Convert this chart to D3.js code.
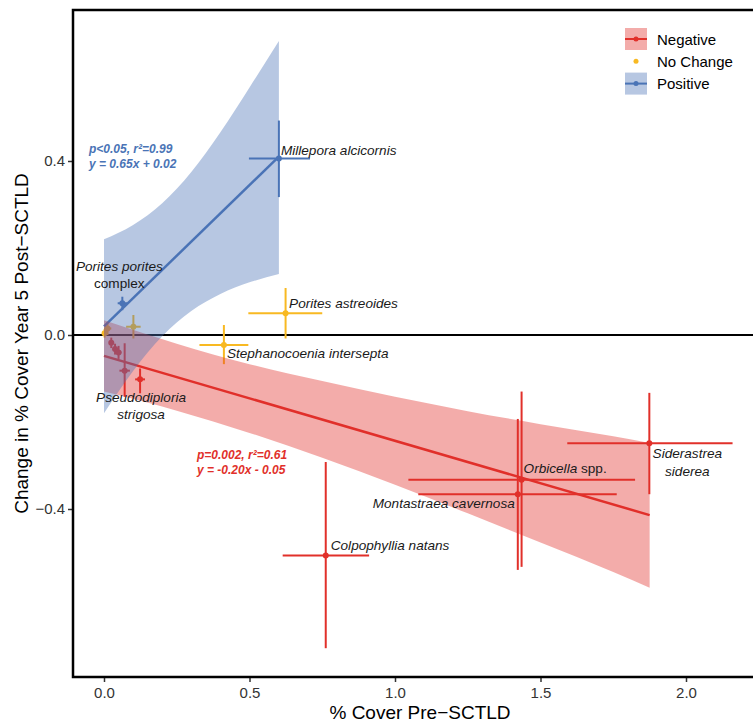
<!DOCTYPE html>
<html>
<head>
<meta charset="utf-8">
<script src="https://cdn.jsdelivr.net/npm/d3@7"></script>
<style>
  body { margin: 0; background: #fff; }
  svg { font-family: "Liberation Sans", Arial, Helvetica, sans-serif; }
</style>
</head>
<body>
<svg id="chart" width="753" height="722"></svg>
<script>
// species means with error bar ends (x = % cover pre, y = change at year 5)
var names  = ["Colpophyllia natans", "Orbicella spp.", "Montastraea cavernosa", "Siderastrea siderea",
              "", "Pseudodiploria strigosa", "", "", "",
              "Porites astreoides", "Stephanocoenia intersepta", "", "", "",
              "Millepora alcicornis", "Porites porites complex"];
var groups = ["Negative", "Negative", "Negative", "Negative",
              "Negative", "Negative", "Negative", "Negative", "Negative",
              "No Change", "No Change", "No Change", "No Change", "No Change",
              "Positive", "Positive"];
var xMean = [0.762, 1.435, 1.422, 1.874, 0.071, 0.124, 0.025, 0.038, 0.050, 0.624, 0.412, 0.101, 0.012, 0.002, 0.601, 0.063];
var xLow  = [0.614, 1.046, 1.080, 1.592, 0.053, 0.107, 0.018, 0.030, 0.040, 0.496, 0.328, 0.076, 0.000, -0.006, 0.498, 0.047];
var xHigh = [0.911, 1.825, 1.762, 2.160, 0.089, 0.141, 0.032, 0.046, 0.060, 0.750, 0.496, 0.126, 0.025, 0.010, 0.708, 0.080];
var yMean = [-0.507, -0.333, -0.366, -0.249, -0.082, -0.102, -0.018, -0.032, -0.040, 0.050, -0.023, 0.019, 0.015, 0.004, 0.406, 0.073];
var yLow  = [-0.720, -0.533, -0.540, -0.366, -0.142, -0.134, -0.030, -0.045, -0.055, -0.008, -0.067, -0.008, 0.000, -0.006, 0.317, 0.057];
var yHigh = [-0.292, -0.130, -0.193, -0.133, -0.019, -0.077, -0.006, -0.020, -0.025, 0.108, 0.023, 0.046, 0.030, 0.014, 0.493, 0.088];

// fitted lines and their confidence bands
var redFitX = [0, 1.875];
var redFitY = [-0.048, -0.414];
var blueFitX = [0, 0.601];
var blueFitY = [0.02, 0.41];
var redBandX  = [0, 0.25, 0.5, 0.75, 1.0, 1.25, 1.5, 1.75, 1.875];
var redBandLo = [-0.130, -0.174, -0.225, -0.282, -0.344, -0.410, -0.477, -0.545, -0.581];
var redBandHi = [0.034, -0.020, -0.067, -0.106, -0.142, -0.175, -0.205, -0.233, -0.248];
var blueBandX  = [0, 0.1, 0.2, 0.3, 0.4, 0.5, 0.601];
var blueBandLo = [-0.180, -0.083, -0.003, 0.055, 0.094, 0.121, 0.140];
var blueBandHi = [0.220, 0.253, 0.303, 0.375, 0.466, 0.569, 0.676];

var xTicks = [0, 0.5, 1.0, 1.5, 2.0];
var yTicks = [-0.4, 0, 0.4];
var legendLabels = ["Negative", "No Change", "Positive"];

(function () {
  var colors = { "Negative": "#e1302a", "No Change": "#f8b922", "Positive": "#4a74b6" };
  var hasBand = { "Negative": true, "Positive": true };

  var svg = d3.select('#chart');
  var pLeft = 73, pRight = 767, pTop = 10, pBottom = 677;

  var x = d3.scaleLinear().domain([0, 2]).range([104, 686]);
  var y = d3.scaleLinear().domain([-0.4, 0.4]).range([509, 161]);

  // zero line
  svg.append('line')
    .attr('x1', pLeft).attr('x2', pRight)
    .attr('y1', y(0)).attr('y2', y(0))
    .attr('stroke', '#000').attr('stroke-width', 2);

  var idx = d3.range(xMean.length);

  // error bars + points
  var bars = svg.append('g');
  bars.selectAll('.eh').data(idx).enter().append('line')
    .attr('x1', function(i) { return x(xLow[i]); })
    .attr('x2', function(i) { return x(xHigh[i]); })
    .attr('y1', function(i) { return y(yMean[i]); })
    .attr('y2', function(i) { return y(yMean[i]); })
    .attr('stroke', function(i) { return colors[groups[i]]; })
    .attr('stroke-width', 2);
  bars.selectAll('.ev').data(idx).enter().append('line')
    .attr('x1', function(i) { return x(xMean[i]); })
    .attr('x2', function(i) { return x(xMean[i]); })
    .attr('y1', function(i) { return y(yLow[i]); })
    .attr('y2', function(i) { return y(yHigh[i]); })
    .attr('stroke', function(i) { return colors[groups[i]]; })
    .attr('stroke-width', 2);
  bars.selectAll('circle').data(idx).enter().append('circle')
    .attr('cx', function(i) { return x(xMean[i]); })
    .attr('cy', function(i) { return y(yMean[i]); })
    .attr('r', 3)
    .attr('fill', function(i) { return colors[groups[i]]; });

  // fit lines
  var line = d3.line().x(function(d) { return x(d[0]); }).y(function(d) { return y(d[1]); });
  svg.append('path').attr('d', line(d3.zip(redFitX, redFitY)))
    .attr('stroke', colors["Negative"]).attr('stroke-width', 2.5).attr('fill', 'none');
  svg.append('path').attr('d', line(d3.zip(blueFitX, blueFitY)))
    .attr('stroke', colors["Positive"]).attr('stroke-width', 2.5).attr('fill', 'none');

  // bands drawn over the points, semi transparent
  var area = d3.area()
    .x(function(d) { return x(d[0]); })
    .y0(function(d) { return y(d[1]); })
    .y1(function(d) { return y(d[2]); })
    .curve(d3.curveMonotoneX);
  svg.append('path').attr('d', area(d3.zip(redBandX, redBandLo, redBandHi)))
    .attr('fill', colors["Negative"]).attr('fill-opacity', 0.4);
  svg.append('path').attr('d', area(d3.zip(blueBandX, blueBandLo, blueBandHi)))
    .attr('fill', colors["Positive"]).attr('fill-opacity', 0.4);

  // species labels: [index, dx, dy, anchor]
  var labels = [
    [14, 2, -8, 'start'], [15, -3, -37, 'middle'], [9, 3.5, -10, 'start'],
    [10, 3, 8, 'start'], [5, 1, 18, 'middle'], [1, 2, -12, 'start'],
    [3, 38, 10, 'middle'], [2, -3, 9, 'end'], [0, 5, -10, 'start']
  ];
  var lab = svg.append('g').attr('font-size', 13.6).attr('fill', '#1a1a1a');
  labels.forEach(function(l) {
    var i = l[0], nm = names[i];
    var tx = x(xMean[i]) + l[1];
    var t = lab.append('text')
      .attr('x', tx)
      .attr('y', y(yMean[i]) + l[2])
      .attr('text-anchor', l[3])
      .attr('dominant-baseline', 'central');
    if (nm == "Porites porites complex") {
      t.append('tspan').attr('font-style', 'italic').text('Porites porites');
      t.append('tspan').attr('x', tx).attr('dy', 16.5).text('complex');
    } else if (nm == "Pseudodiploria strigosa") {
      t.append('tspan').attr('font-style', 'italic').text('Pseudodiploria');
      t.append('tspan').attr('font-style', 'italic').attr('x', tx).attr('dy', 16.5).text('strigosa');
    } else if (nm == "Siderastrea siderea") {
      t.append('tspan').attr('font-style', 'italic').text('Siderastrea');
      t.append('tspan').attr('font-style', 'italic').attr('x', tx).attr('dy', 17.5).text('siderea');
    } else if (nm == "Orbicella spp.") {
      t.append('tspan').attr('font-style', 'italic').text('Orbicella');
      t.append('tspan').text(' spp.');
    } else {
      t.attr('font-style', 'italic').text(nm);
    }
  });

  // regression stats
  var blueStats = ["p<0.05, r\u00b2=0.99", "y = 0.65x + 0.02"];
  var redStats = ["p=0.002, r\u00b2=0.61", "y = -0.20x - 0.05"];
  svg.append('g').selectAll('text').data(blueStats).enter().append('text')
    .attr('x', 89).attr('y', function(d, i) { return 149 + i * 14.5; })
    .attr('dominant-baseline', 'central')
    .attr('font-size', 12).attr('font-weight', 'bold').attr('font-style', 'italic')
    .attr('fill', colors["Positive"]).text(function(d) { return d; });
  svg.append('g').selectAll('text').data(redStats).enter().append('text')
    .attr('x', 197).attr('y', function(d, i) { return 455 + i * 15; })
    .attr('dominant-baseline', 'central')
    .attr('font-size', 12).attr('font-weight', 'bold').attr('font-style', 'italic')
    .attr('fill', colors["Negative"]).text(function(d) { return d; });

  // axes
  var xAxis = svg.append('g').attr('transform', 'translate(0,' + pBottom + ')')
    .call(d3.axisBottom(x).tickValues(xTicks).tickFormat(d3.format('.1f')).tickSize(5).tickSizeOuter(0));
  var yAxis = svg.append('g').attr('transform', 'translate(' + pLeft + ',0)')
    .call(d3.axisLeft(y).tickValues(yTicks).tickFormat(d3.format('.1f')).tickSize(5).tickSizeOuter(0));
  [xAxis, yAxis].forEach(function(a) {
    a.select('.domain').remove();
    a.selectAll('.tick line').attr('stroke', '#333').attr('stroke-width', 1.5);
    a.selectAll('.tick text').attr('font-size', 15).attr('fill', '#333')
      .attr('font-family', '"Liberation Sans", Arial, sans-serif');
  });
  xAxis.selectAll('.tick text').attr('dy', '0.85em');

  // panel frame (left, top, bottom)
  svg.append('path')
    .attr('d', 'M' + pRight + ',' + pTop + 'H' + pLeft + 'V' + pBottom + 'H' + pRight)
    .attr('fill', 'none').attr('stroke', '#000').attr('stroke-width', 2.5);

  svg.append('text').attr('x', (pLeft + pRight) / 2).attr('y', 712)
    .attr('text-anchor', 'middle').attr('dominant-baseline', 'central')
    .attr('font-size', 19).attr('fill', '#000').text('% Cover Pre\u2212SCTLD');
  svg.append('text')
    .attr('transform', 'translate(21,' + (pTop + pBottom) / 2 + ') rotate(-90)')
    .attr('text-anchor', 'middle').attr('dominant-baseline', 'central')
    .attr('font-size', 19).attr('fill', '#000').text('Change in % Cover Year 5 Post\u2212SCTLD');

  // legend
  var leg = svg.append('g').attr('transform', 'translate(625,28)');
  var rows = leg.selectAll('g').data(legendLabels).enter().append('g')
    .attr('transform', function(d, i) { return 'translate(0,' + (i * 22.3) + ')'; });
  rows.filter(function(d) { return hasBand[d]; }).append('rect')
    .attr('width', 22).attr('height', 22)
    .attr('fill', function(d) { return colors[d]; }).attr('fill-opacity', 0.4);
  rows.filter(function(d) { return hasBand[d]; }).append('line')
    .attr('x1', 0).attr('x2', 22).attr('y1', 11).attr('y2', 11)
    .attr('stroke', function(d) { return colors[d]; }).attr('stroke-width', 2);
  rows.append('circle').attr('cx', 11).attr('cy', 11).attr('r', 2.5)
    .attr('fill', function(d) { return colors[d]; });
  rows.append('text').attr('x', 32).attr('y', 11).attr('dominant-baseline', 'central')
    .attr('font-size', 15).attr('fill', '#000').text(function(d) { return d; });
})();
</script>
</body>
</html>
